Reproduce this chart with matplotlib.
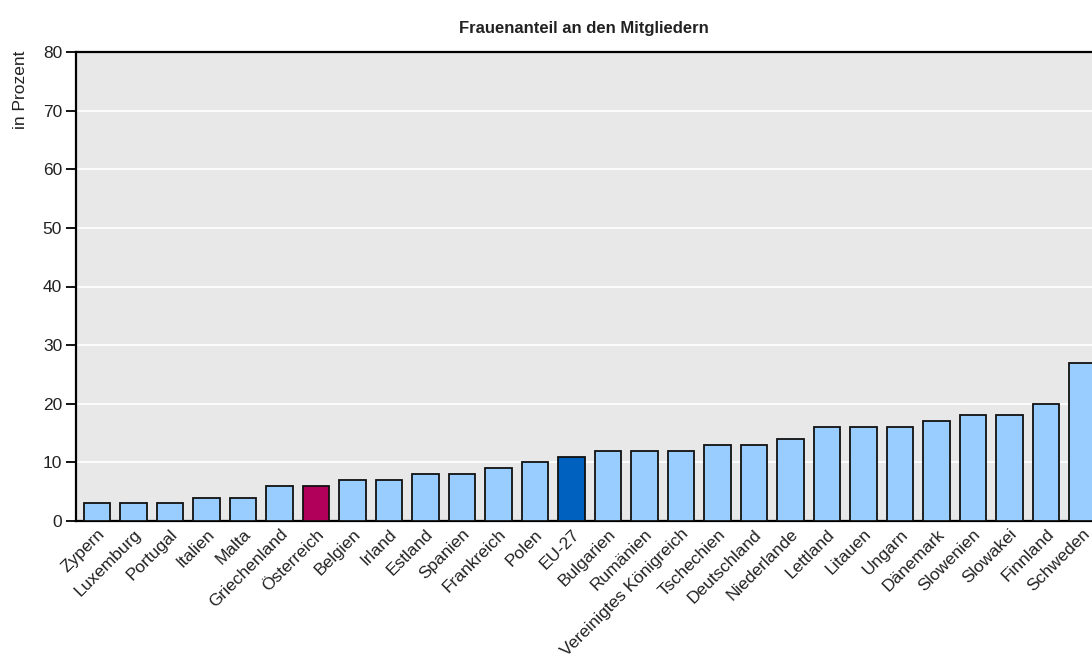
import matplotlib
matplotlib.use('Agg')
import matplotlib.pyplot as plt
from matplotlib import font_manager

##data
laender = ['Zypern', 'Luxemburg', 'Portugal', 'Italien', 'Malta', 'Griechenland',
           'Österreich', 'Belgien', 'Irland', 'Estland', 'Spanien', 'Frankreich',
           'Polen', 'EU-27', 'Bulgarien', 'Rumänien', 'Vereinigtes Königreich',
           'Tschechien', 'Deutschland', 'Niederlande', 'Lettland', 'Litauen',
           'Ungarn', 'Dänemark', 'Slowenien', 'Slowakei', 'Finnland', 'Schweden']
anteil = [3, 3, 3, 4, 4, 6, 6, 7, 7, 8, 8, 9, 10, 11, 12, 12, 12, 13, 13, 14,
          16, 16, 16, 17, 18, 18, 20, 27]
yticks = [0, 10, 20, 30, 40, 50, 60, 70, 80]

##font: narrow if there is one
names = set(f.name for f in font_manager.fontManager.ttflist)
if 'Liberation Sans Narrow' in names:
    plt.rcParams['font.family'] = ['Liberation Sans Narrow', 'DejaVu Sans']
else:
    plt.rcParams['font.family'] = ['Liberation Sans', 'DejaVu Sans']

farben = []
for l in laender:
    if l == 'Österreich':
        farben.append('#B0005A')
    elif l == 'EU-27':
        farben.append('#0062BE')
    else:
        farben.append('#99CCFF')

fig = plt.figure(figsize=(10.92, 6.61), dpi=100)
ax = fig.add_axes([76/1092, 140/661, 1 - 76/1092, 469/661])
ax.set_facecolor('#E8E8E8')

x = list(range(len(laender)))
ax.bar(x, anteil, width=0.72, color=farben, edgecolor='#111111', linewidth=1.3, zorder=3)

ax.set_ylim(0, 80)
ax.set_xlim(-0.575, 27.26)
ax.set_yticks(yticks)
ax.set_yticklabels([str(v) for v in yticks], fontsize=12.5, color='#222222')
ax.yaxis.grid(True, color='white', linewidth=1.3, zorder=0)
ax.set_axisbelow(True)
ax.tick_params(axis='y', direction='out', length=7, width=1.3, pad=3)
ax.tick_params(axis='x', length=0, pad=4)
ax.set_xticks(x)
ax.set_xticklabels(laender, rotation=45, ha='right', va='top', rotation_mode='anchor',
                   fontsize=12.5, color='#222222')

for s in ['left', 'bottom', 'top']:
    ax.spines[s].set_linewidth(1.6)
    ax.spines[s].set_color('black')
ax.spines['right'].set_visible(False)

ax.set_ylabel('in Prozent', fontsize=12.5, color='#222222', labelpad=8)
ax.yaxis.set_label_coords(-0.047, 0.92)
fig.text(584/1092, 1 - 28/661, 'Frauenanteil an den Mitgliedern', ha='center', va='center',
         fontsize=12, fontweight='bold', color='#222222')

plt.savefig('out.png', dpi=100)
